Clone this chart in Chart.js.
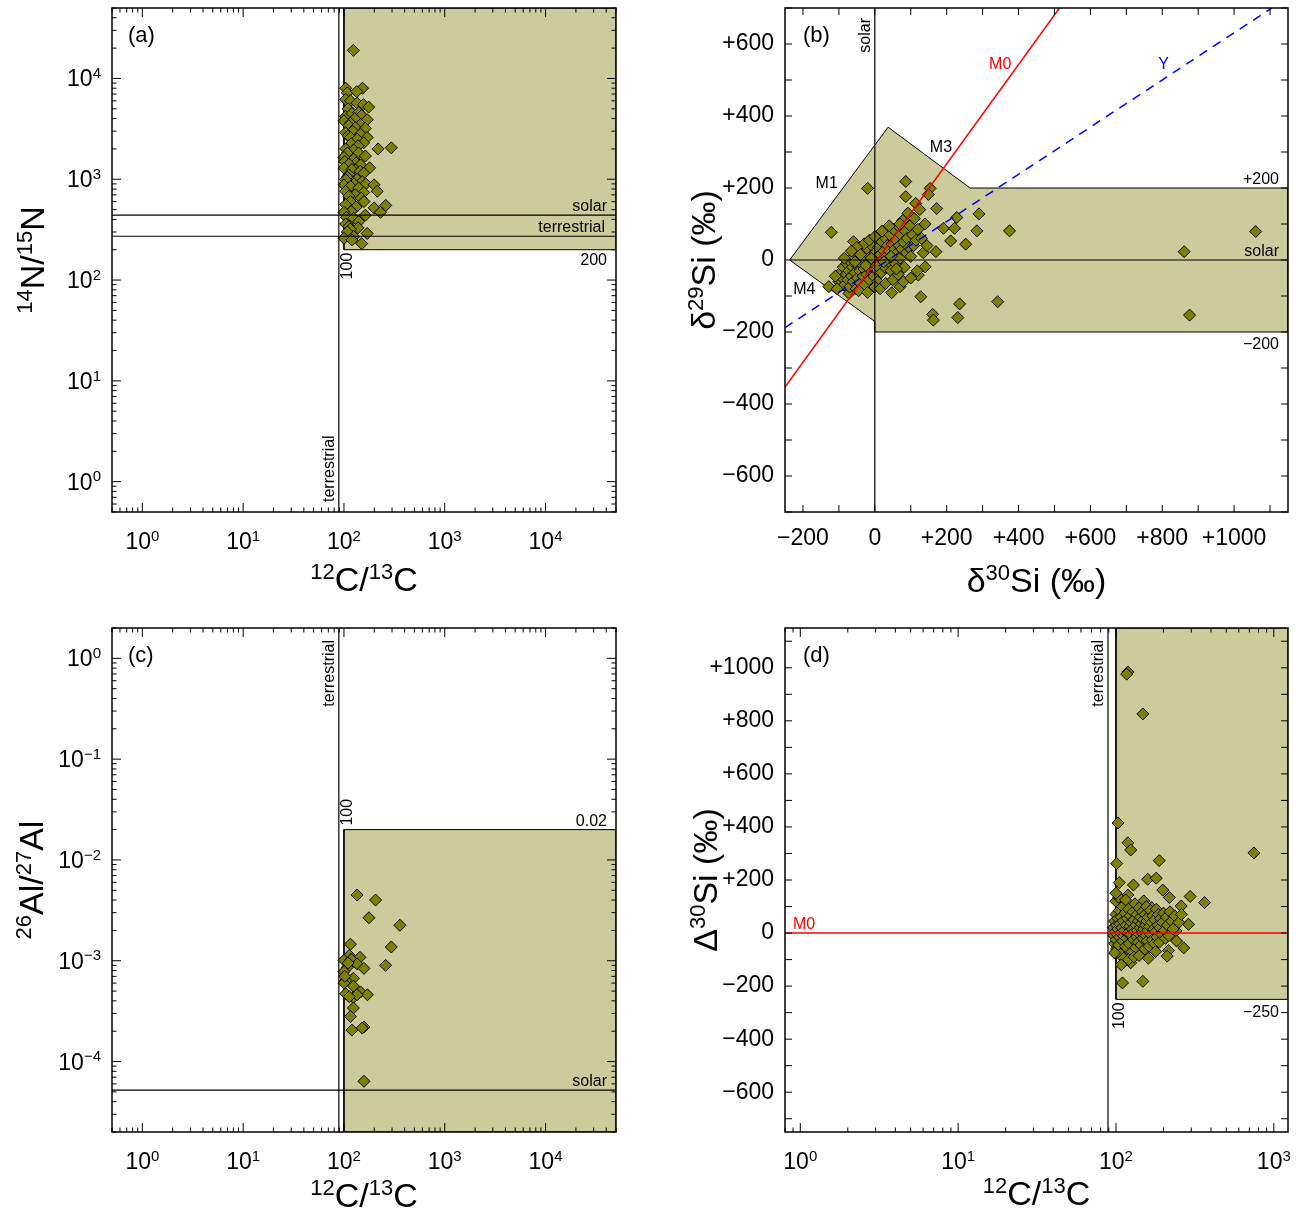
<!DOCTYPE html>
<html>
<head>
<meta charset="utf-8">
<script src="https://cdn.jsdelivr.net/npm/chart.js@4.4.1/dist/chart.umd.min.js"></script>
<style>
  body { margin: 0; background: #fff; width: 1296px; height: 1218px; position: relative; overflow: hidden; }
  canvas { position: absolute; }
</style>
</head>
<body>
<canvas id="chartA" width="648" height="609" style="left:0;top:0"></canvas>
<canvas id="chartB" width="648" height="609" style="left:648px;top:0"></canvas>
<canvas id="chartC" width="648" height="609" style="left:0;top:609px"></canvas>
<canvas id="chartD" width="648" height="609" style="left:648px;top:609px"></canvas>
<script>
// ---- panel (a): 14N/15N vs 12C/13C ----
const logTicksA = [1, 10, 100, 1000, 10000];
const terrestrialC = 89;
const solarN = 441;
const terrestrialN = 272;
const regionA = [[100, 200], [5e4, 200], [5e4, 5e4], [100, 5e4], [100, 200]];
const grainsA = [
  [124, 19000], [104, 8000], [153, 8000], [108, 7200], [134, 7400], [104, 6200], [116, 6000], [135, 5700],
  [156, 5500], [176, 5200], [110, 5000], [104, 4200], [120, 4500], [140, 4600], [150, 4300], [128, 4000],
  [170, 3900], [100, 3800], [116, 3600], [146, 3500], [112, 3400], [130, 3250], [163, 3200], [122, 3000],
  [104, 2900], [146, 2800], [110, 2700], [116, 2600], [170, 2600], [135, 2500], [157, 2300], [118, 2250],
  [138, 2150], [218, 2000], [295, 2050], [104, 2000], [125, 1950], [108, 1820], [140, 1820], [163, 1700],
  [100, 1650], [125, 1580], [102, 1500], [132, 1450], [112, 1410], [146, 1390], [180, 1300], [100, 1290],
  [130, 1240], [120, 1250], [145, 1200], [157, 1150], [112, 1110], [108, 1050], [135, 1000], [104, 990],
  [152, 950], [126, 900], [165, 900], [199, 880], [100, 880], [116, 850], [140, 820], [214, 760],
  [157, 740], [104, 760], [130, 700], [112, 680], [148, 650], [116, 600], [158, 600], [104, 560],
  [199, 520], [260, 550], [132, 530], [118, 480], [230, 470], [100, 470], [163, 440], [106, 420],
  [125, 410], [140, 380], [104, 360], [112, 340], [138, 330], [116, 320], [108, 300], [170, 290],
  [125, 270], [100, 260], [120, 250], [150, 230]
];

// ---- panel (b): d29Si vs d30Si ----
const linTicksBx = [-200, 0, 200, 400, 600, 800, 1000];
const linTicksBy = [-600, -400, -200, 0, 200, 400, 600];
const regionB = [[-237, 0], [37, 369], [265, 200], [1150, 200], [1150, -200], [0, -200], [0, -171], [-237, 0]];
const solarAxisB = [[0, -700], [0, 700]];
const solarLineB = [[-237, 0], [1150, 0]];
const mainstreamB = [[-250, -353], [514, 700]];
const typeYB = [[-250, -188], [1105, 700]];
const grainsB = [
  [-20, 199], [86, 218], [86, 176], [154, 199], [149, 182], [114, 157], [172, 143], [228, 118], [290, 128],
  [284, 81], [375, 81], [-121, 77], [-59, 51], [211, 53], [253, 44], [170, 23], [191, 88], [222, 88],
  [128, -102], [236, -122], [342, -116], [161, -151], [163, -167], [231, -160], [-128, -74], [-72, -93],
  [-14, -81], [47, -91], [70, -74], [121, -42], [140, -19], [861, 23], [1060, 79], [876, -153],
  [-100, -60], [-95, -35], [-90, -50], [-88, -20], [-85, -70], [-80, -40], [-78, -10], [-75, -55],
  [-72, -30], [-70, -75], [-68, -5], [-65, -45], [-62, -20], [-60, -60], [-58, 10], [-55, -35],
  [-52, -80], [-50, -15], [-48, -50], [-45, 5], [-42, -30], [-40, -65], [-38, -10], [-35, 20],
  [-33, -45], [-30, -25], [-28, -70], [-25, 0], [-22, -40], [-20, 30], [-18, -20], [-15, -55],
  [-12, 10], [-10, -30], [-8, 40], [-5, -10], [-3, -45], [0, 20], [2, -25], [5, 5], [8, -60],
  [10, 35], [12, -10], [15, 15], [18, -35], [20, 50], [22, 0], [25, 25], [28, -20], [30, 60],
  [32, 10], [35, 40], [38, -5], [40, 25], [42, 70], [45, -30], [48, 45], [50, 15], [52, 85],
  [55, 30], [58, -10], [60, 55], [62, 20], [65, 95], [68, 40], [70, 5], [72, 70], [75, 30],
  [78, 110], [80, 50], [82, -20], [85, 80], [88, 20], [90, 60], [92, 130], [95, 35], [98, 95],
  [100, 10], [105, 70], [108, 40], [110, 115], [115, 55], [118, -30], [120, 85], [-110, -45],
  [-105, -80], [-45, -85], [-20, -90], [0, -75], [15, -80], [30, -65], [50, -55], [65, -40],
  [80, -60], [100, -50], [-30, 45], [-50, 35], [-15, 55], [0, 65], [20, 80], [40, 95], [-65, 25],
  [-85, 5], [130, 60], [135, 20], [125, 140], [140, 100], [145, 40], [-40, 15], [-25, -15],
  [-10, 5], [5, -15], [25, -5], [45, 10], [60, -25], [-55, -5], [70, 100]
];

// ---- panel (c): 26Al/27Al vs 12C/13C ----
const logTicksCy = [1e-4, 1e-3, 1e-2, 1e-1, 1];
const solarAl = 5.2e-5;
const regionC = [[100, 2e-5], [5e4, 2e-5], [5e4, 0.02], [100, 0.02], [100, 2e-5]];
const grainsC = [
  [135, 0.00449], [206, 0.0040], [177, 0.00267], [359, 0.00225], [116, 0.00146], [295, 0.00137],
  [259, 0.00090], [113, 0.00113], [144, 0.00108], [100, 0.00101], [118, 0.00103], [135, 0.00093],
  [158, 0.00084], [108, 0.00086], [100, 0.00078], [124, 0.00067], [104, 0.00064], [100, 0.00060],
  [124, 0.00056], [146, 0.00049], [171, 0.00046], [104, 0.00047], [124, 0.00043], [135, 0.00046],
  [124, 0.00034], [116, 0.00028], [120, 0.000205], [158, 0.00022], [152, 0.000215], [158, 0.0000637],
  [113, 0.00044], [102, 0.00070], [110, 0.00095]
];

// ---- panel (d): D30Si vs 12C/13C ----
const logTicksDx = [1, 10, 100, 1000];
const linTicksDy = [-600, -400, -200, 0, 200, 400, 600, 800, 1000];
const regionD = [[100, -250], [1230, -250], [1230, 1150], [100, 1150], [100, -250]];
const mainstreamD = [[0.8, 0], [1230, 0]];
const grainsD = [
  [119, 984], [117, 976], [148, 826], [103, 415], [119, 340], [124, 313], [101, 262], [188, 273],
  [748, 302], [105, 190], [129, 181], [159, 203], [180, 207], [295, 138], [364, 115], [110, -188],
  [148, -182], [124, -112], [215, -66], [211, -87], [269, -56], [119, 143], [198, 162], [218, 134],
  [259, 102], [288, 33], [212, 52], [168, 96], [150, 121], [198, -18], [240, 8], [163, -45], [141, -62],
  [96, 20], [97, -10], [98, 45], [98, -40], [99, 5], [100, 70], [100, -25], [101, 30], [101, -60],
  [102, -5], [103, 55], [103, 15], [104, -45], [105, 85], [105, -15], [106, 35], [107, 0], [107, -80],
  [108, 60], [109, 20], [110, -30], [110, 100], [111, 45], [112, -10], [113, 10], [114, 75], [115, -50],
  [116, 30], [117, -20], [118, 55], [119, 0], [120, 90], [121, -40], [122, 25], [123, 65], [124, -5],
  [125, 40], [126, -70], [127, 15], [128, 80], [129, -25], [130, 50], [131, 5], [132, 110], [133, -55],
  [134, 30], [135, -15], [136, 70], [137, 10], [138, -35], [139, 45], [140, 95], [141, -5], [142, 20],
  [143, 60], [144, -45], [145, 35], [146, 0], [147, 80], [148, -20], [149, 50], [150, 15], [152, -60],
  [153, 70], [154, 30], [155, -10], [156, 100], [157, 45], [158, -30], [159, 10], [160, 60], [162, -50],
  [163, 25], [165, 85], [166, -5], [168, 40], [170, -25], [171, 65], [173, 15], [175, -40], [176, 50],
  [178, 5], [180, 90], [182, -15], [184, 30], [186, 70], [188, -35], [190, 20], [192, 55], [195, -5],
  [197, 40], [200, 75], [203, 10], [206, -20], [209, 60], [212, 30], [216, -10], [220, 80], [225, 45],
  [230, 15], [236, 65], [242, -30], [250, 40], [260, 70], [100, 120], [104, 135], [112, -95], [120, -100],
  [130, -90], [98, -75], [140, -85], [160, -95], [178, -70], [100, 150], [108, -120], [115, 125]
];

const FONT = '"Liberation Sans", Arial, Helvetica, sans-serif';
const OLIVE = '#7f7f00';
const KHAKI = '#cbcb9b';
Chart.defaults.font.family = FONT;
Chart.defaults.color = '#000';

const signLabel = (v) => (v > 0 ? '+' + v : v < 0 ? '\u2212' + Math.abs(v) : '0');
const powText = (v) => '10^{' + String(Math.round(Math.log10(v))).replace('-', '\u2212') + '}';

const pts = (arr) => arr.map(([x, y]) => ({ x, y }));

const grainSet = (arr) => ({
  type: 'scatter',
  data: pts(arr),
  pointStyle: 'rectRot',
  pointRadius: 6,
  backgroundColor: OLIVE,
  borderColor: '#000',
  borderWidth: 1,
  order: 1,
});

const regionSet = (arr) => ({
  type: 'line',
  data: pts(arr),
  fill: 'shape',
  backgroundColor: KHAKI,
  borderColor: '#000',
  borderWidth: 1,
  pointRadius: 0,
  tension: 0,
  order: 3,
});

const lineSet = (arr, color, width, dash) => ({
  type: 'line',
  data: pts(arr),
  fill: false,
  borderColor: color,
  borderWidth: width,
  borderDash: dash || [],
  pointRadius: 0,
  tension: 0,
  order: 0,
});

// text with ^{..} superscripts
const richParts = (ctx, str, size) => {
  const parts = [];
  const re = /\^\{([^}]*)\}|([^^]+)/g;
  let m;
  while ((m = re.exec(str))) {
    const sup = m[1] !== undefined;
    const p = { t: sup ? m[1] : m[2], sup, size: sup ? Math.round(size * 0.64) : size };
    ctx.font = p.size + 'px ' + FONT;
    p.w = ctx.measureText(p.t).width;
    parts.push(p);
  }
  return parts;
};

const drawRich = (ctx, str, size, x, y, align, rot) => {
  const parts = richParts(ctx, str, size);
  const total = parts.reduce((s, p) => s + p.w, 0);
  ctx.save();
  ctx.translate(x, y);
  if (rot) ctx.rotate(-Math.PI / 2);
  let cx = align === 'right' ? -total : align === 'center' ? -total / 2 : 0;
  ctx.fillStyle = '#000';
  ctx.textAlign = 'left';
  ctx.textBaseline = 'alphabetic';
  for (const p of parts) {
    ctx.font = p.size + 'px ' + FONT;
    ctx.fillText(p.t, cx, p.sup ? -size * 0.36 : 0);
    cx += p.w;
  }
  ctx.restore();
};

// tick marks (inward, all four sides), frame, log labels, titles and text notes
const tickList = (scale, log, step) => {
  const out = [];
  if (log) {
    for (let e = Math.floor(Math.log10(scale.min)); e <= Math.ceil(Math.log10(scale.max)); e++) {
      for (let k = 1; k < 10; k++) {
        const v = k * Math.pow(10, e);
        if (v >= scale.min && v <= scale.max) out.push({ v, major: k === 1 });
      }
    }
  } else {
    for (let v = Math.ceil(scale.min / step) * step; v <= scale.max; v += step) out.push({ v, major: true });
  }
  return out;
};

const decor = (cfg) => ({
  id: 'decor',
  afterDatasetsDraw(chart) {
    const { ctx, chartArea: a } = chart;
    const { x, y } = chart.scales;
    ctx.save();
    ctx.strokeStyle = '#000';
    ctx.lineWidth = 1;
    ctx.beginPath();
    for (const t of tickList(x, cfg.logX, cfg.stepX)) {
      const p = x.getPixelForValue(t.v);
      const L = cfg.logX ? (t.major ? 9 : 4.5) : 7;
      ctx.moveTo(p, a.bottom); ctx.lineTo(p, a.bottom - L);
      ctx.moveTo(p, a.top); ctx.lineTo(p, a.top + L);
    }
    for (const t of tickList(y, cfg.logY, cfg.stepY)) {
      const p = y.getPixelForValue(t.v);
      const L = cfg.logY ? (t.major ? 9 : 4.5) : 7;
      ctx.moveTo(a.left, p); ctx.lineTo(a.left + L, p);
      ctx.moveTo(a.right, p); ctx.lineTo(a.right - L, p);
    }
    ctx.stroke();
    ctx.lineWidth = 1.5;
    ctx.strokeRect(a.left, a.top, a.right - a.left, a.bottom - a.top);

    if (cfg.logX) {
      for (const t of x.ticks) drawRich(ctx, powText(t.value), 23, x.getPixelForValue(t.value), a.bottom + 37, 'center');
    }
    if (cfg.logY) {
      for (const t of y.ticks) drawRich(ctx, powText(t.value), 23, a.left - 11, y.getPixelForValue(t.value) + 8, 'right');
    }
    drawRich(ctx, cfg.titleX.text, 34, (a.left + a.right) / 2, cfg.titleX.base, 'center');
    drawRich(ctx, cfg.titleY.text, 34, cfg.titleY.base, (a.top + a.bottom) / 2, 'center', true);

    for (const n of cfg.notes) {
      ctx.save();
      ctx.translate(x.getPixelForValue(n.x) + (n.dx || 0), y.getPixelForValue(n.y) + (n.dy || 0));
      if (n.rot) ctx.rotate(-Math.PI / 2);
      ctx.font = (n.size || 16) + 'px ' + FONT;
      ctx.fillStyle = n.color || '#000';
      ctx.textAlign = n.align || 'center';
      ctx.textBaseline = n.base || 'middle';
      ctx.fillText(n.text, 0, 0);
      ctx.restore();
    }
    ctx.restore();
  },
});

const axis = (o) => ({
  type: o.log ? 'logarithmic' : 'linear',
  min: o.min,
  max: o.max,
  grid: { display: false, drawTicks: false },
  border: { display: false },
  afterBuildTicks: (s) => { s.ticks = o.ticks.map((v) => ({ value: v })); },
  afterFit: (s) => {
    if (o.width) s.width = o.width;
    if (o.height) s.height = o.height;
    s.paddingTop = 0;
    s.paddingBottom = 0;
    s.paddingLeft = 0;
    s.paddingRight = 0;
  },
  ticks: {
    display: !o.log,
    autoSkip: false,
    maxRotation: 0,
    padding: o.pad,
    font: { size: 23 },
    color: '#000',
    callback: signLabel,
  },
  title: { display: false },
});

const makeChart = (id, datasets, xAx, yAx, padding, cfg) => new Chart(document.getElementById(id), {
  type: 'scatter',
  data: { datasets },
  options: {
    responsive: false,
    animation: false,
    events: [],
    layout: { padding },
    plugins: { legend: { display: false }, tooltip: { enabled: false } },
    scales: { x: xAx, y: yAx },
  },
  plugins: [decor(cfg)],
});

// (a)
makeChart('chartA', [
  lineSet([[terrestrialC, 0.5], [terrestrialC, 5e4]], '#000', 1.2),
  lineSet([[0.5, solarN], [5e4, solarN]], '#000', 1.2),
  lineSet([[0.5, terrestrialN], [5e4, terrestrialN]], '#000', 1.2),
  grainSet(grainsA),
  regionSet(regionA),
],
  axis({ log: true, min: 0.5, max: 5e4, ticks: logTicksA, height: 97 }),
  axis({ log: true, min: 0.5, max: 5e4, ticks: logTicksA, width: 112 }),
  { top: 8, right: 32, left: 0, bottom: 0 },
  {
    logX: true, logY: true,
    titleX: { text: '^{12}C/^{13}C', base: 591 },
    titleY: { text: '^{14}N/^{15}N', base: 44 },
    notes: [
      { x: 0.5, y: 5e4, text: '(a)', size: 22, align: 'left', dx: 16, dy: 28 },
      { x: 5e4, y: solarN, text: 'solar', align: 'right', base: 'alphabetic', dx: -9, dy: -4 },
      { x: 5e4, y: terrestrialN, text: 'terrestrial', align: 'right', base: 'alphabetic', dx: -11, dy: -4 },
      { x: 5e4, y: 200, text: '200', align: 'right', base: 'top', dx: -9, dy: 3 },
      { x: 100, y: 200, text: '100', rot: true, align: 'right', dx: 4, dy: 3 },
      { x: terrestrialC, y: 0.5, text: 'terrestrial', rot: true, align: 'left', dx: -9, dy: -10 },
    ],
  });

// (b)
makeChart('chartB', [
  lineSet(solarAxisB, '#000', 1.2),
  lineSet(solarLineB, '#000', 1.2),
  lineSet(mainstreamB, '#ff0000', 1.5),
  lineSet(typeYB, '#0000ff', 1.5, [9, 7]),
  grainSet(grainsB),
  regionSet(regionB),
],
  axis({ min: -250, max: 1150, ticks: linTicksBx, pad: 13, height: 97 }),
  axis({ min: -700, max: 700, ticks: linTicksBy, pad: 11, width: 137 }),
  { top: 8, right: 8, left: 0, bottom: 0 },
  {
    stepX: 100, stepY: 100,
    titleX: { text: '\u03b4^{30}Si (\u2030)', base: 592 },
    titleY: { text: '\u03b4^{29}Si (\u2030)', base: 67 },
    notes: [
      { x: -250, y: 700, text: '(b)', size: 22, align: 'left', dx: 18, dy: 28 },
      { x: 0, y: 700, text: 'solar', rot: true, align: 'right', dx: -9, dy: 10 },
      { x: 349, y: 542, text: 'M0', color: '#ff0000' },
      { x: 804, y: 542, text: 'Y', color: '#0000ff' },
      { x: -134, y: 211, text: 'M1' },
      { x: 184, y: 311, text: 'M3' },
      { x: -196, y: -83, text: 'M4' },
      { x: 1150, y: 200, text: '+200', align: 'right', base: 'alphabetic', dx: -9, dy: -4 },
      { x: 1150, y: 0, text: 'solar', align: 'right', base: 'alphabetic', dx: -9, dy: -4 },
      { x: 1150, y: -200, text: '\u2212200', align: 'right', base: 'top', dx: -9, dy: 5 },
    ],
  });

// (c)
makeChart('chartC', [
  lineSet([[terrestrialC, 2e-5], [terrestrialC, 2]], '#000', 1.2),
  lineSet([[0.5, solarAl], [5e4, solarAl]], '#000', 1.2),
  grainSet(grainsC),
  regionSet(regionC),
],
  axis({ log: true, min: 0.5, max: 5e4, ticks: logTicksA, height: 86 }),
  axis({ log: true, min: 2e-5, max: 2, ticks: logTicksCy, width: 112 }),
  { top: 19, right: 32, left: 0, bottom: 0 },
  {
    logX: true, logY: true,
    titleX: { text: '^{12}C/^{13}C', base: 598 },
    titleY: { text: '^{26}Al/^{27}Al', base: 43 },
    notes: [
      { x: 0.5, y: 2, text: '(c)', size: 22, align: 'left', dx: 16, dy: 28 },
      { x: terrestrialC, y: 2, text: 'terrestrial', rot: true, align: 'right', dx: -9, dy: 12 },
      { x: 100, y: 0.02, text: '100', rot: true, align: 'left', dx: 4, dy: -4 },
      { x: 5e4, y: 0.02, text: '0.02', align: 'right', base: 'alphabetic', dx: -9, dy: -4 },
      { x: 5e4, y: solarAl, text: 'solar', align: 'right', base: 'alphabetic', dx: -9, dy: -4 },
    ],
  });

// (d)
makeChart('chartD', [
  lineSet([[terrestrialC, -750], [terrestrialC, 1150]], '#000', 1.2),
  lineSet(mainstreamD, '#ff0000', 1.5),
  grainSet(grainsD),
  regionSet(regionD),
],
  axis({ log: true, min: 0.8, max: 1230, ticks: logTicksDx, height: 86 }),
  axis({ min: -750, max: 1150, ticks: linTicksDy, pad: 11, width: 137 }),
  { top: 19, right: 8, left: 0, bottom: 0 },
  {
    logX: true, stepY: 100,
    titleX: { text: '^{12}C/^{13}C', base: 596 },
    titleY: { text: '\u0394^{30}Si (\u2030)', base: 69 },
    notes: [
      { x: 0.8, y: 1150, text: '(d)', size: 22, align: 'left', dx: 18, dy: 28 },
      { x: terrestrialC, y: 1150, text: 'terrestrial', rot: true, align: 'right', dx: -9, dy: 12 },
      { x: 0.8, y: 0, text: 'M0', color: '#ff0000', align: 'left', base: 'alphabetic', dx: 8, dy: -4 },
      { x: 100, y: -250, text: '100', rot: true, align: 'right', dx: 4, dy: 3 },
      { x: 1230, y: -250, text: '\u2212250', align: 'right', base: 'top', dx: -9, dy: 5 },
    ],
  });
</script>
</body>
</html>
